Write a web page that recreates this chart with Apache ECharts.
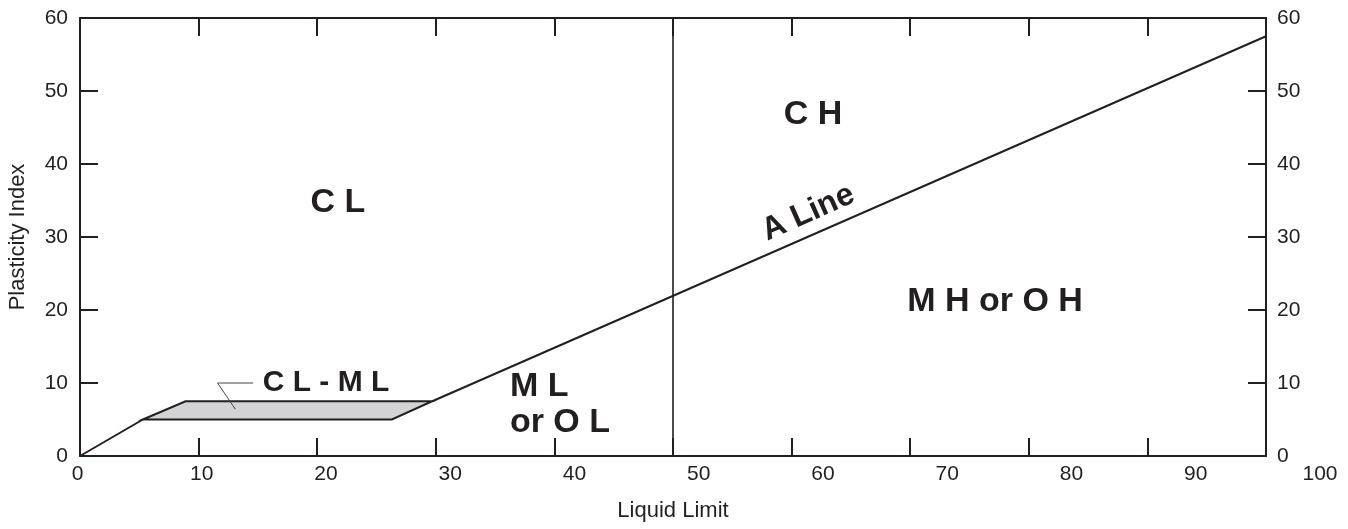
<!DOCTYPE html>
<html>
<head>
<meta charset="utf-8">
<script src="https://cdn.jsdelivr.net/npm/echarts@6/dist/echarts.min.js"></script>
<style>
html,body{margin:0;padding:0;background:#fff;}
#chart{width:1348px;height:529px;}
</style>
</head>
<body>
<div id="chart"></div>
<script>
// ---- data (Liquid Limit, Plasticity Index) ----
const xRange = [0, 100];
const yRange = [0, 60];
const tickStep = 10;
const originLine = [[0, 0], [5.3, 5]];
const clmlBand = [[5.3, 5], [8.9, 7.5], [29.7, 7.5], [26.3, 5]];
const aLine = [[29.7, 7.5], [100, 57.5]];
const llDivider = [[50, 0], [50, 60]];
const leaderLine = [[13.1, 6.4], [11.6, 10], [14.6, 10]];
const regionNames = ['C L', 'C H', 'M H or O H', 'M L\nor O L', 'C L - M L'];
const regionPos = [[21.75, 34.7], [61.8, 46.7], [77.15, 21.1], [36.25, 7.0], [15.4, 10.0]];
const regionAlign = ['center', 'center', 'center', 'left', 'left'];
const regionSize = [34, 34, 34, 34, 30];
const aLineLabel = 'A Line';
const aLineLabelPos = [61.4, 33.3];

const INK = '#231f20';
const FONT = '"Liberation Sans", Arial, Helvetica, sans-serif';

const chart = echarts.init(document.getElementById('chart'), null, {renderer: 'canvas'});

const axisLineStyle = {onZero: false, lineStyle: {color: INK, width: 2}};
const tickStyle = {show: true, inside: true, length: 18, lineStyle: {color: INK, width: 2}};

const regionData = regionNames.map((n, i) => ({
  value: regionPos[i],
  label: {
    show: true, formatter: n, align: regionAlign[i], verticalAlign: 'middle',
    position: 'inside', fontSize: regionSize[i], fontWeight: 'bold', color: INK,
    fontFamily: FONT, lineHeight: 36, opacity: 1
  }
}));
regionData.push({
  value: aLineLabelPos,
  label: {
    show: true, formatter: aLineLabel, align: 'center', verticalAlign: 'middle',
    position: 'inside', fontSize: 32, fontWeight: 'bold', color: INK, fontFamily: FONT,
    rotate: 24, opacity: 1
  }
});

const lineSeries = (data, width, color) => ({
  type: 'line', xAxisIndex: 0, yAxisIndex: 0, data: data, symbol: 'none',
  silent: true, animation: false,
  lineStyle: {color: color || INK, width: width}
});

const option = {
  animation: false,
  backgroundColor: '#fff',
  grid: [
    {left: 80, right: 82, top: 18, bottom: 73, containLabel: false, outerBoundsMode: 'none'},
    {left: 77.5, right: 28, top: 18, bottom: 73, containLabel: false, outerBoundsMode: 'none'}
  ],
  xAxis: [
    {gridIndex: 0, type: 'value', min: xRange[0], max: xRange[1], interval: tickStep,
     position: 'bottom', axisLine: axisLineStyle, axisTick: tickStyle,
     axisLabel: {show: false}, splitLine: {show: false},
     name: 'Liquid Limit', nameLocation: 'middle', nameGap: 44,
     nameTextStyle: {color: INK, fontSize: 22, fontFamily: FONT}},
    {gridIndex: 0, type: 'value', min: xRange[0], max: xRange[1], interval: tickStep,
     position: 'top', axisLine: axisLineStyle, axisTick: tickStyle,
     axisLabel: {show: false}, splitLine: {show: false}},
    {gridIndex: 1, type: 'value', min: xRange[0], max: xRange[1], interval: tickStep,
     position: 'bottom', axisLine: {show: false, onZero: false}, axisTick: {show: false},
     splitLine: {show: false},
     axisLabel: {show: true, color: INK, fontSize: 21, fontFamily: FONT, margin: 8}}
  ],
  yAxis: [
    {gridIndex: 0, type: 'value', min: yRange[0], max: yRange[1], interval: tickStep,
     position: 'left', axisLine: axisLineStyle, axisTick: tickStyle, splitLine: {show: false},
     axisLabel: {show: true, color: INK, fontSize: 21, fontFamily: FONT, margin: 12},
     name: 'Plasticity Index', nameLocation: 'middle', nameGap: 51, nameRotate: 90,
     nameTextStyle: {color: INK, fontSize: 22, fontFamily: FONT}},
    {gridIndex: 0, type: 'value', min: yRange[0], max: yRange[1], interval: tickStep,
     position: 'right', axisLine: axisLineStyle, axisTick: tickStyle, splitLine: {show: false},
     axisLabel: {show: true, color: INK, fontSize: 21, fontFamily: FONT, margin: 11,
                 padding: [6, 0, 0, 0]}},
    {gridIndex: 1, type: 'value', min: yRange[0], max: yRange[1], show: false}
  ],
  series: [
    {
      type: 'custom', xAxisIndex: 0, yAxisIndex: 0, silent: true,
      data: [0],
      renderItem: function (params, api) {
        const pts = clmlBand.map(p => api.coord(p));
        return {
          type: 'polygon',
          shape: {points: pts},
          style: {fill: '#d1d3d4', stroke: INK, lineWidth: 2, lineJoin: 'miter'}
        };
      }
    },
    lineSeries(originLine, 2),
    lineSeries(aLine, 2),
    lineSeries(llDivider, 1.6),
    lineSeries(leaderLine, 1, '#444446'),
    {
      type: 'scatter', xAxisIndex: 0, yAxisIndex: 0, symbolSize: 0, silent: true,
      itemStyle: {opacity: 1, color: 'rgba(0,0,0,0)'},
      data: regionData, z: 10
    }
  ]
};
chart.setOption(option);
</script>
</body>
</html>
